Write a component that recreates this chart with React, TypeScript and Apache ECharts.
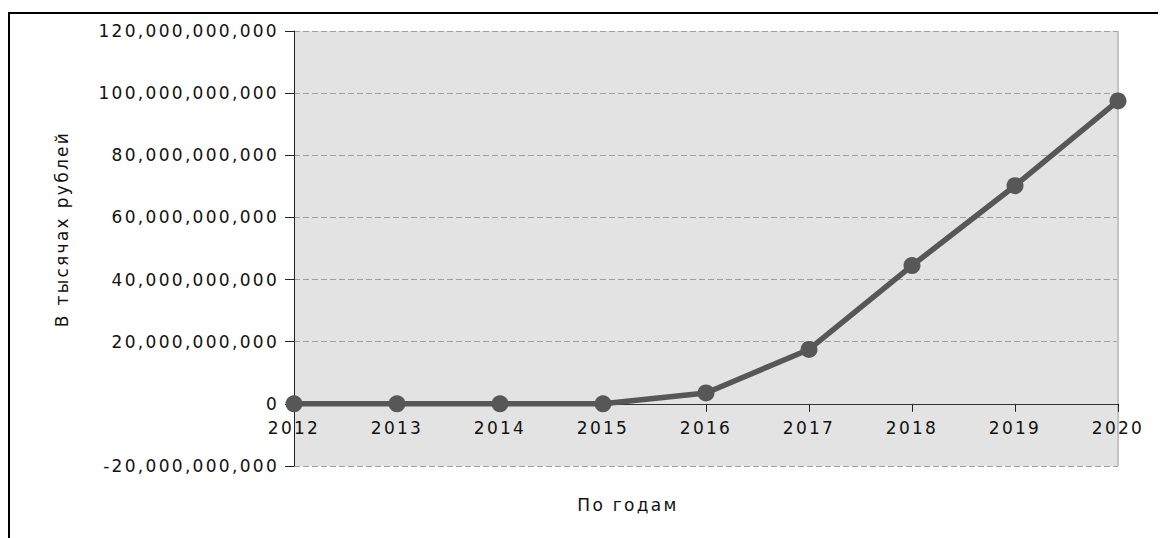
import React, { useEffect, useRef } from "react";
import * as echarts from "echarts";

const years = ["2012", "2013", "2014", "2015", "2016", "2017", "2018", "2019", "2020"];
const values = [0, 0, 0, 0, 3.5e9, 17.5e9, 44.5e9, 70.2e9, 97.5e9];
const yMin = -20e9;
const yMax = 120e9;
const yStep = 20e9;
const xTitle = "По годам";
const yTitle = "В тысячах рублей";

const FONT = "DejaVu Sans";

export default function App() {
  const ref = useRef<HTMLDivElement>(null);
  useEffect(() => {
    if (!ref.current) return;
    const chart = echarts.init(ref.current, null, { renderer: "svg" });
    const gridTop = 23;
    const gridBottom = 72;
    const gridHeight = 530 - gridTop - gridBottom;
    const zeroOffset = -gridHeight * (0 - yMin) / (yMax - yMin);
    chart.setOption({
      animation: false,
      backgroundColor: "#ffffff",
      grid: {
        left: 286,
        top: gridTop,
        right: 48,
        bottom: gridBottom,
        show: true,
        backgroundColor: "#e3e3e3",
        borderWidth: 0,
      },
      xAxis: {
        type: "category",
        data: years,
        boundaryGap: false,
        offset: zeroOffset,
        axisLine: { onZero: false, lineStyle: { color: "#333", width: 1 } },
        axisTick: { show: true, inside: false, alignWithLabel: true, length: 8, lineStyle: { color: "#222", width: 1 } },
        axisLabel: { color: "#111", fontFamily: FONT, fontSize: 17, margin: 16, interval: 0 },
        splitLine: { show: false },
        z: 3,
      },
      yAxis: {
        type: "value",
        min: yMin,
        max: yMax,
        interval: yStep,
        axisLine: { show: true, lineStyle: { color: "#222", width: 1 } },
        axisTick: { show: true, length: 9, lineStyle: { color: "#222" } },
        axisLabel: {
          color: "#111",
          fontFamily: FONT,
          fontSize: 17,
          margin: 15,
          formatter: (v: number) => Math.round(v).toLocaleString("en-US"),
        },
        splitLine: { show: true, lineStyle: { color: "#a0a0a0", type: [6, 3], width: 1 } },
      },
      series: [
        {
          type: "line",
          data: values,
          symbol: "circle",
          symbolSize: 17,
          lineStyle: { color: "#575757", width: 5.5 },
          itemStyle: { color: "#575757" },
          z: 5,
          markLine: {
            silent: true,
            symbol: "none",
            label: { show: false },
            lineStyle: { color: "#c4c4c4", width: 2, type: "solid" },
            data: [{ xAxis: years[years.length - 1] }],
            z: 1,
          },
        },
      ],
      graphic: [
        {
          type: "line",
          shape: { x1: 0, y1: 5, x2: 1158, y2: 5 },
          style: { stroke: "#000", lineWidth: 2 },
        },
        {
          type: "line",
          shape: { x1: 1, y1: 5, x2: 1, y2: 530 },
          style: { stroke: "#000", lineWidth: 2 },
        },
        {
          type: "text",
          x: 620,
          y: 497,
          style: {
            text: xTitle,
            fill: "#111",
            font: `17px "${FONT}"`,
            align: "center",
            verticalAlign: "middle",
          },
        },
        {
          type: "text",
          x: 54,
          y: 221,
          rotation: Math.PI / 2,
          style: {
            text: yTitle,
            fill: "#111",
            font: `17px "${FONT}"`,
            align: "center",
            verticalAlign: "middle",
          },
        },
      ],
    });
    const texts = ref.current.querySelectorAll("text");
    texts.forEach((t) => {
      (t as SVGTextElement).style.letterSpacing = "2.3px";
    });
    return () => chart.dispose();
  }, []);
  return <div ref={ref} style={{ width: 1158, height: 530 }} />;
}
